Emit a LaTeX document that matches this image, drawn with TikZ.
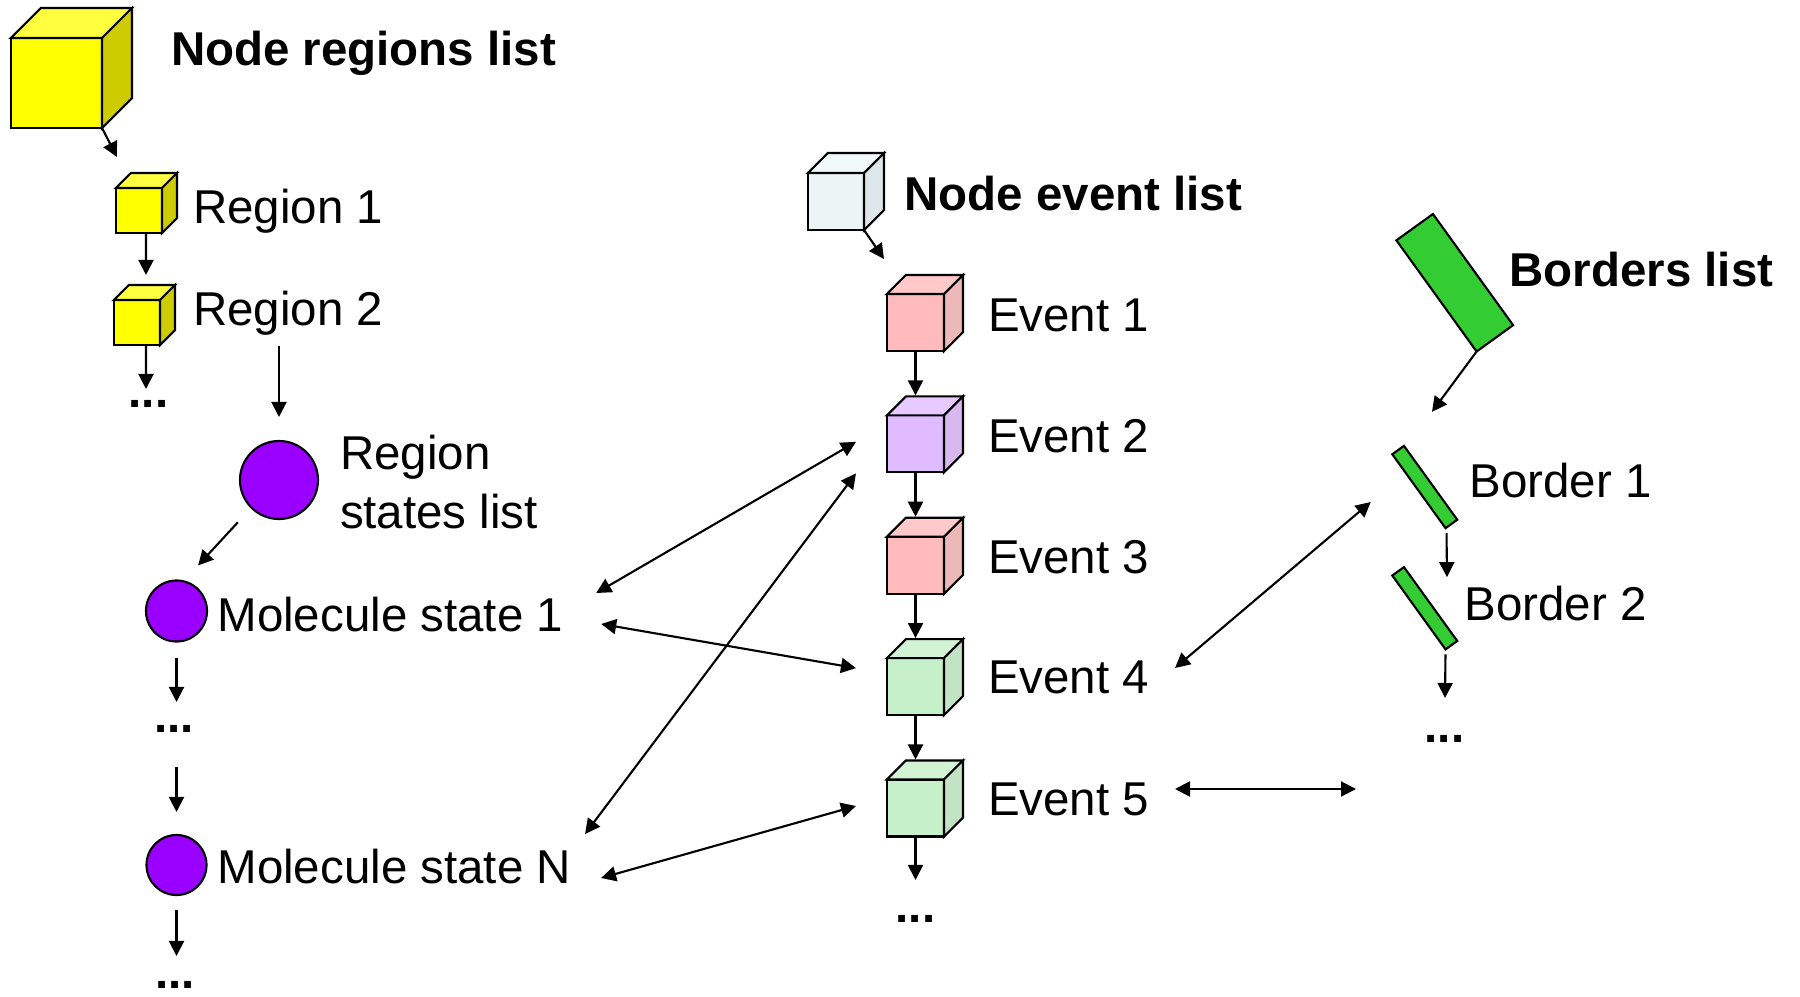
\documentclass[tikz,border=0pt]{standalone}
\usepackage{fontspec}
\setmainfont{Liberation Sans}
\usepackage{xcolor}
\usepackage{tikz}
\usetikzlibrary{positioning,arrows.meta}

\definecolor{gialloF}{HTML}{FFFF00}
\definecolor{gialloT}{HTML}{FFFF40}
\definecolor{gialloL}{HTML}{CCCC00}
\definecolor{neF}{HTML}{EBF5F5}
\definecolor{neT}{HTML}{F1F8F8}
\definecolor{neL}{HTML}{DDE7E9}
\definecolor{rosaF}{HTML}{FFBBBB}
\definecolor{rosaT}{HTML}{FFC9C9}
\definecolor{rosaL}{HTML}{EDB8B8}
\definecolor{lillaF}{HTML}{E0BBFF}
\definecolor{lillaT}{HTML}{E6C9FF}
\definecolor{lillaL}{HTML}{D9B8EF}
\definecolor{verdeF}{HTML}{C6F0C9}
\definecolor{verdeT}{HTML}{D3F3D5}
\definecolor{verdeL}{HTML}{C2E3C4}
\definecolor{viola}{HTML}{9900FF}
\definecolor{verdeB}{HTML}{33CC33}

\begin{document}
\begin{tikzpicture}[x=0.01cm, y=-0.01cm,
	cubo/.style={draw, line width=0.6pt, inner sep=0pt, outer sep=0pt},
	palla/.style={circle, draw, fill=viola, line width=0.6pt, inner sep=0pt, outer sep=0pt},
	barra/.style={draw, fill=verdeB, line width=0.6pt, rotate=-54.2, inner sep=0pt, outer sep=0pt},
	testo/.style={anchor=base west, inner sep=0pt, outer sep=0pt, font=\fontsize{13.5}{16.5}\selectfont},
	titolo/.style={testo, font=\fontsize{13.5}{16.5}\selectfont\bfseries},
	puntini/.style={anchor=base, inner sep=0pt, outer sep=0pt, font=\fontsize{13.5}{16.5}\selectfont\bfseries},
	freccia/.style={-{Triangle[length=0.15cm, width=0.15cm]}, line width=0.6pt},
	doppia/.style={{Triangle[length=0.15cm, width=0.15cm]}-{Triangle[length=0.15cm, width=0.15cm]}, line width=0.6pt}]
	\useasboundingbox (0,0) rectangle (1800,997);

	% cubi
	\node[cubo, fill=gialloF, minimum width=0.91cm, minimum height=0.90cm] (nrl) at (56.5,83) {};
	\node[cubo, fill=gialloF, minimum width=0.46cm, minimum height=0.45cm] (r1) at (139,210.5) {};
	\node[cubo, fill=gialloF, minimum width=0.46cm, minimum height=0.45cm] (r2) at (137,322.5) {};
	\node[cubo, fill=neF, minimum width=0.56cm, minimum height=0.57cm] (nel) at (836,201.5) {};
	\node[cubo, fill=rosaF, minimum size=0.57cm] (e1) at (915.5,322.5) {};
	\node[cubo, fill=lillaF, minimum size=0.57cm, below=0.643cm of e1] (e2) {};
	\node[cubo, fill=rosaF, minimum size=0.57cm, below=0.643cm of e2] (e3) {};
	\node[cubo, fill=verdeF, minimum size=0.57cm, below=0.643cm of e3] (e4) {};
	\node[cubo, fill=verdeF, minimum size=0.57cm, below=0.643cm of e4] (e5) {};
	\foreach \cn/\pr/\ts/\ls in {nrl/30/gialloT/gialloL, r1/15/gialloT/gialloL, r2/15/gialloT/gialloL,
		nel/20/neT/neL, e1/19/rosaT/rosaL, e2/19/lillaT/lillaL, e3/19/rosaT/rosaL,
		e4/19/verdeT/verdeL, e5/19/verdeT/verdeL} {
		\draw[fill=\ts, line width=0.6pt] (\cn.north west) -- ++(\pr,-\pr) -- ([shift={(\pr,-\pr)}]\cn.north east) -- (\cn.north east) -- cycle;
		\draw[fill=\ls, line width=0.6pt] (\cn.north east) -- ++(\pr,-\pr) -- ([shift={(\pr,-\pr)}]\cn.south east) -- (\cn.south east) -- cycle;
	}

	% palle e barre
	\node[palla, minimum size=0.78cm] (rsl) at (279,480) {};
	\node[palla, minimum size=0.61cm] (ms1) at (176.5,611) {};
	\node[palla, minimum size=0.60cm] (msn) at (176.5,865) {};
	\node[barra, minimum width=1.37cm, minimum height=0.45cm] (bl) at (1454.75,282.75) {};
	\node[barra, minimum width=0.91cm, minimum height=0.144cm] (b1) at (1424.75,487) {};
	\node[barra, minimum width=0.91cm, minimum height=0.144cm] (b2) at (1424.75,608.25) {};

	% testi
	\node[titolo] (nrlt) at (171,66) {Node regions list};
	\node[testo] (r1t) at (193,223) {Region 1};
	\node[testo] (r2t) at (193,325) {Region 2};
	\node[puntini] (rd) at (148.5,407) {...};
	\node[testo, align=left] (rslt) at (340,528) {Region\\states list};
	\node[testo] (ms1t) at (217.5,631) {Molecule state 1};
	\node[puntini] (md1) at (174,732) {...};
	\node[testo] (msnt) at (217.5,883) {Molecule state N};
	\node[puntini] (md2) at (175,988) {...};
	\node[titolo] (nelt) at (904.5,211) {Node event list};
	\foreach \i/\b in {1/331, 2/452, 3/573, 4/693, 5/815}
		\node[testo] (te\i) at (988,\b) {Event \i};
	\node[puntini] (ed) at (915.5,922) {...};
	\node[titolo] (blt) at (1509.5,287) {Borders list};
	\node[testo] (b1t) at (1469.5,497) {Border 1};
	\node[testo] (b2t) at (1464.5,620) {Border 2};
	\node[puntini] (bd) at (1444.5,742) {...};
	\coordinate (libero) at (1356,789);

	% frecce
	\draw[freccia] (nrl.south east) -- ([shift={(1,-31)}]r1.north west);
	\draw[freccia, shorten >=0.25cm] ([xshift=0.07cm]r1.south) -- ([xshift=0.09cm]r2.north);
	\draw[freccia, shorten >=0.18cm] ([xshift=0.09cm]r2.south) -- ([xshift=-0.025cm]rd.base);
	\draw[freccia, shorten <=0.11cm, shorten >=0.24cm] (r2t.south -| rsl.north) -- (rsl.north);
	\draw[freccia, shorten <=0.2cm] (rsl.225) -- ([shift={(0,-24)}]ms1.45);
	\draw[freccia, shorten <=0.16cm, shorten >=0.30cm] (ms1.south) -- (ms1.south |- md1.base);
	\draw[freccia, shorten <=0.35cm, shorten >=0.23cm] (md1.base -| msn.north) -- (msn.north);
	\draw[freccia, shorten <=0.15cm, shorten >=0.32cm] (msn.south) -- (msn.south |- md2.base);
	\draw[freccia] (nel.south east) -- ([shift={(-3,-35)}]e1.north west);
	\foreach \a/\b in {e1/e2, e2/e3, e3/e4, e4/e5}
		\draw[freccia, shorten >=0.2cm] (\a.south) -- (\b.north);
	\draw[freccia, shorten >=0.42cm] (e5.south) -- (e5.south |- ed.base);
	\draw[freccia] (bl.south east) -- ([shift={(28,-34)}]b1.north west);
	\draw[freccia] ([shift={(1,5)}]b1.south east) -- ([shift={(43,10)}]b2.north west);
	\draw[freccia, shorten <=0.05cm, shorten >=0.44cm] (b2.south east) -- (bd.base);

	\draw[doppia] ([shift={(33,-38)}]ms1t.base east) -- ([shift={(-31,-2)}]e2.west);
	\draw[doppia] ([shift={(38,-7)}]ms1t.base east) -- ([shift={(-31,10)}]e4.north west);
	\draw[doppia] ([shift={(14,-49)}]msnt.base east) -- ([shift={(-31,1)}]e2.south west);
	\draw[doppia] ([shift={(30,-5)}]msnt.base east) -- ([shift={(-31,-2)}]e5.west);
	\draw[doppia] ([shift={(26,-25)}]te4.base east) -- ([shift={(-54,15)}]b1.center);
	\draw[doppia] ([shift={(26,-26)}]te5.base east) -- (libero);
\end{tikzpicture}
\end{document}
